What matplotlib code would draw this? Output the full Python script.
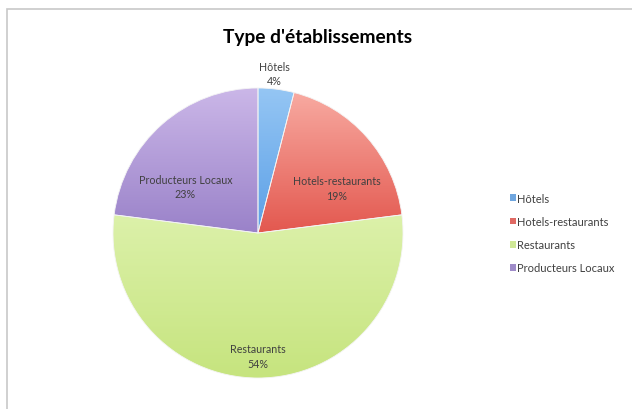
import numpy as np
import matplotlib.pyplot as plt
from matplotlib.colors import LinearSegmentedColormap
from matplotlib.patches import Rectangle

plt.close("all")

# Data
categories = ['Hôtels', 'Hotels-restaurants', 'Restaurants', 'Producteurs Locaux']
shares = [4, 19, 54, 23]
# light (top) / dark (bottom) shades of each slice
top_colors = ['#95c6f4', '#f8aaa1', '#dcf1aa', '#cbb7e8']
bottom_colors = ['#5b9fe6', '#e3584f', '#c6e47e', '#9a82c9']
legend_colors = ['#6fa6df', '#e06a64', '#cfe896', '#9f8cc9']
# label positions (pie units)
label_pos = [(0.11, 1.10), (0.545, 0.31), (0.0, -0.85), (-0.50, 0.32)]

plt.rcParams['font.family'] = ['Lato', 'DejaVu Sans']

fig = plt.figure(figsize=(6.32, 4.1), dpi=100)
fig.patch.set_facecolor('white')

# Chart border
fig.add_artist(Rectangle((7 / 632, -0.1), 1.0, 1 - 10 / 410 + 0.1,
                         transform=fig.transFigure, fill=False,
                         edgecolor='#c8c8c8', linewidth=1.2))

ax = fig.add_axes([113 / 632, 31 / 410, 290 / 632, 290 / 410])
wedges, _ = ax.pie(shares, startangle=90, counterclock=False,
                   colors=bottom_colors,
                   wedgeprops=dict(linewidth=0.6, edgecolor='#f4f4f4'))

# Vertical gradient fill in each slice
grad = np.linspace(0, 1, 256).reshape(-1, 1)
for w, c_top, c_bot in zip(wedges, top_colors, bottom_colors):
    verts = w.get_path().vertices
    x0, y0 = verts.min(axis=0)
    x1, y1 = verts.max(axis=0)
    cmap = LinearSegmentedColormap.from_list('g', [c_bot, c_top])
    im = ax.imshow(grad, cmap=cmap, origin='lower', extent=(x0, x1, y0, y1),
                   aspect='auto', zorder=1, interpolation='bilinear')
    im.set_clip_path(w)
    w.set_facecolor('none')
    w.set_zorder(2)

ax.set_xlim(-1, 1)
ax.set_ylim(-1, 1)
ax.set_aspect('equal')
ax.axis('off')

# Data labels
for name, val, (lx, ly) in zip(categories, shares, label_pos):
    ax.text(lx, ly, f"{name}\n{val}%", ha='center', va='center',
            fontsize=7.7, color='#404040', linespacing=1.4, zorder=5,
            clip_on=False)

fig.text(318 / 632, 1 - 37 / 410, "Type d'établissements", ha='center',
         va='center', fontsize=13.8, fontweight='bold', color='black')

handles = [Rectangle((0, 0), 1, 1, facecolor=c, edgecolor='none')
           for c in legend_colors]
leg = fig.legend(handles, categories, loc='center left',
                 bbox_to_anchor=(500 / 632, 1 - 234 / 410), frameon=False,
                 fontsize=8, handlelength=0.5, handleheight=0.55,
                 handletextpad=0.15, labelspacing=1.1)
for t in leg.get_texts():
    t.set_color('#404040')

fig.savefig('out.png', dpi=100)
